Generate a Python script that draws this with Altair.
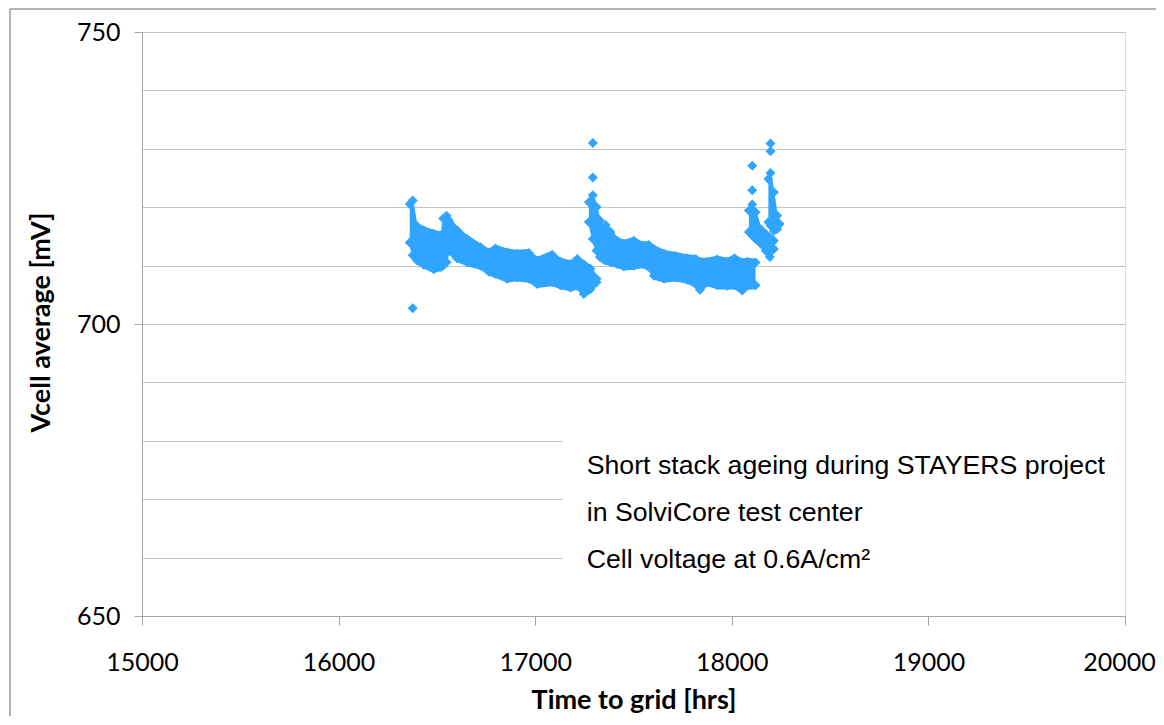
import altair as alt
import pandas as pd

# ---- data -----------------------------------------------------------------
# Point cloud outline per test block: time [hrs], upper and lower edge [mV]
seg1_x = [16362, 16377, 16399, 16433, 16484, 16521, 16532, 16549, 16562, 16603, 16654, 16722, 16764,
          16798, 16857, 16908, 16968, 17010, 17086, 17129, 17180, 17214, 17247, 17281, 17312]
seg1_top = [721.4, 722.0, 717.6, 716.9, 716.3, 716.0, 718.9, 719.4, 718.6, 716.9, 715.4, 714.0, 713.1,
            713.8, 713.1, 712.9, 713.0, 711.7, 712.7, 711.5, 711.1, 712.0, 711.1, 710.3, 708.6]
seg1_bot = [713.1, 710.9, 710.0, 709.3, 708.5, 708.9, 709.1, 709.7, 711.7, 710.4, 709.7, 709.1, 708.1,
            707.7, 706.9, 707.1, 706.9, 706.0, 706.3, 705.8, 705.4, 705.7, 704.3, 705.1, 706.3]

seg2_x = [17273, 17293, 17312, 17329, 17342, 17358, 17383, 17417, 17451, 17502, 17544, 17578, 17604,
          17655, 17714, 17773, 17816, 17838, 17875, 17926, 17977, 18014, 18053, 18079, 18121]
seg2_top = [721.7, 722.9, 720.9, 718.6, 717.1, 717.8, 716.6, 715.1, 714.6, 715.1, 714.3, 714.4, 713.7,
            712.9, 712.5, 712.1, 712.0, 711.5, 711.5, 711.9, 711.5, 712.1, 711.4, 711.5, 711.4]
seg2_bot = [716.6, 713.7, 711.7, 710.6, 710.3, 710.0, 709.7, 709.4, 709.0, 709.1, 709.4, 708.9, 707.4,
            706.9, 707.1, 706.7, 706.0, 705.0, 706.3, 705.8, 705.7, 705.8, 704.9, 705.7, 705.8]

seg3_x = [18087, 18104, 18121, 18147, 18172, 18194, 18214]
seg3_top = [720.3, 721.3, 720.0, 717.1, 716.3, 715.7, 715.1]
seg3_bot = [714.9, 714.3, 713.7, 712.9, 711.7, 710.6, 712.0]

seg4_x = [18186, 18197, 18214, 18231, 18242]
seg4_top = [725.7, 726.7, 723.4, 719.4, 718.0]
seg4_bot = [716.6, 716.0, 715.1, 715.4, 716.3]

# isolated points
out_x = [16377, 17293, 17293, 18104, 18104, 18197, 18197]
out_y = [702.7, 731.0, 725.1, 727.1, 722.9, 730.9, 729.6]

x_ticks = [15000, 16000, 17000, 18000, 19000, 20000]
y_grid = [650, 660, 670, 680, 690, 700, 710, 720, 730, 740, 750]

note_lines = ["Short stack ageing during STAYERS project",
              "in SolviCore test center",
              "Cell voltage at 0.6A/cm²"]
note_x = [17262, 17262, 17262]
note_y = [674.4, 666.2, 658.2]

box_x = [17139, 20000]
box_y = [652, 686]

BLUE = "#30a5ff"
AXIS = "#a6a6a6"
GRID = "#c4c4c4"

# ---- tables -----------------------------------------------------------------
rows = []
for name, xs, ts, bs in [("a", seg1_x, seg1_top, seg1_bot), ("b", seg2_x, seg2_top, seg2_bot),
                         ("c", seg3_x, seg3_top, seg3_bot), ("d", seg4_x, seg4_top, seg4_bot)]:
    for x, t, b in zip(xs, ts, bs):
        rows.append({"seg": name, "t": x, "top": t, "bot": b})
band = pd.DataFrame(rows)
outl = pd.DataFrame({"t": out_x, "v": out_y})
notes = pd.DataFrame({"t": note_x, "v": note_y, "txt": note_lines})
box = pd.DataFrame({"x0": [box_x[0]], "x1": [box_x[1]], "y0": [box_y[0]], "y1": [box_y[1]]})
one = pd.DataFrame({"k": [0]})

xscale = alt.Scale(domain=[15000, 20000], nice=False, zero=False)
yscale = alt.Scale(domain=[650, 750], nice=False, zero=False)

xaxis = alt.Axis(values=x_ticks, format="d", grid=False, tickSize=9, tickColor=AXIS,
                 domainColor=AXIS, labelFont="Lato", labelFontSize=25, labelColor="#000000",
                 labelPadding=25, labelFlush=False,
                 labelOffset={"condition": {"test": "datum.value === 20000", "value": -6}, "value": 0},
                 title="Time to grid [hrs]", titleFont="Lato", titleFontSize=27,
                 titleFontWeight="bold", titleColor="#000000", titleBaseline="alphabetic",
                 titleY=92.5)
yaxis = alt.Axis(values=y_grid, grid=True, gridColor=GRID, tickSize=8, tickColor=AXIS,
                 tickOpacity={"condition": {"test": "datum.value % 50 === 0", "value": 1}, "value": 0},
                 labelExpr="datum.value % 50 === 0 ? datum.label : ''",
                 domainColor=AXIS, labelFont="Lato", labelFontSize=25, labelColor="#000000",
                 labelPadding=14, labelFlush=False,
                 title="Vcell average [mV]", titleFont="Lato", titleFontSize=27,
                 titleFontWeight="bold", titleColor="#000000", titleBaseline="alphabetic",
                 titleX=-93, titleY=290, titleAngle=-90, titleAlign="center")

base_box = alt.Chart(box).mark_rect(color="white").encode(
    x=alt.X("x0:Q", scale=xscale, axis=xaxis),
    x2="x1:Q",
    y=alt.Y("y0:Q", scale=yscale, axis=yaxis),
    y2="y1:Q",
)

area = alt.Chart(band).mark_area(color=BLUE, opacity=1, yOffset=1, y2Offset=-1).encode(
    x=alt.X("t:Q", scale=xscale),
    y=alt.Y("top:Q", scale=yscale),
    y2="bot:Q",
    detail="seg:N",
)

pts_top = alt.Chart(band).mark_point(shape="diamond", filled=True, color=BLUE, opacity=1,
                                     size=100, yOffset=5).encode(
    x=alt.X("t:Q", scale=xscale), y=alt.Y("top:Q", scale=yscale))
pts_bot = alt.Chart(band).mark_point(shape="diamond", filled=True, color=BLUE, opacity=1,
                                     size=100, yOffset=-5).encode(
    x=alt.X("t:Q", scale=xscale), y=alt.Y("bot:Q", scale=yscale))
pts_out = alt.Chart(outl).mark_point(shape="diamond", filled=True, color=BLUE, opacity=1,
                                     size=100).encode(
    x=alt.X("t:Q", scale=xscale), y=alt.Y("v:Q", scale=yscale))

text = alt.Chart(notes).mark_text(font="Liberation Sans", fontSize=26.7, align="left",
                                  baseline="alphabetic", color="#000000").encode(
    x=alt.X("t:Q", scale=xscale), y=alt.Y("v:Q", scale=yscale), text="txt:N")

border_left = alt.Chart(one).mark_rule(color="#9a9a9a", strokeWidth=1.5).encode(
    x=alt.value(-132), y=alt.value(-23), y2=alt.value(720))
border_top = alt.Chart(one).mark_rule(color="#9a9a9a", strokeWidth=1.5).encode(
    x=alt.value(-132), x2=alt.value(1030), y=alt.value(-23))

chart = alt.layer(base_box, area, pts_top, pts_bot, pts_out, text, border_left, border_top).properties(
    width=983, height=584,
    padding={"left": 134, "top": 24, "right": 31, "bottom": 100},
    autosize=alt.AutoSizeParams(type="none"),
).configure_view(strokeWidth=0).configure(background="white")

chart.save("out.html", embed_options={"renderer": "svg", "actions": False})
